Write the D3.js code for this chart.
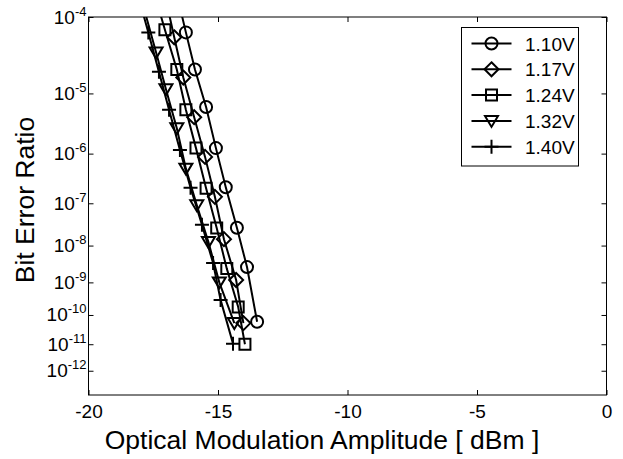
<!DOCTYPE html>
<html>
<head>
<meta charset="utf-8">
<script src="https://cdn.jsdelivr.net/npm/d3@7"></script>
<style>
  body { margin: 0; background: #fff; }
  svg { display: block; font-family: Arial, "Liberation Sans", sans-serif; }
</style>
</head>
<body>
<svg id="chart" width="623" height="459"></svg>
<script>
// values
var seriesNames = ["1.10V", "1.17V", "1.24V", "1.32V", "1.40V"];
var markerTypes = ["circle", "diamond", "square", "triangle", "plus"];

var oma_110 = [-16.58, -16.24, -15.89, -15.46, -15.08, -14.70, -14.27, -13.88, -13.49];
var ber_110 = [1.74e-4, 6.6e-5, 2.2e-5, 6.2e-6, 1.26e-6, 2.2e-7, 2.75e-8, 2.7e-9, 6.0e-11];

var oma_117 = [-17.05, -16.69, -16.34, -15.92, -15.50, -15.12, -14.77, -14.30, -14.02];
var ber_117 = [1.74e-4, 5.75e-5, 1.7e-5, 4.27e-6, 8.7e-7, 1.38e-7, 1.45e-8, 1.17e-9, 5.4e-11];

var oma_124 = [-17.44, -17.05, -16.59, -16.24, -15.85, -15.46, -15.05, -14.66, -14.22, -13.96];
var ber_124 = [1.74e-4, 7.1e-5, 2.2e-5, 5.6e-6, 1.26e-6, 2.1e-7, 2.7e-8, 2.45e-9, 1.8e-10, 1.0e-11];

var oma_132 = [-18.00, -17.39, -17.01, -16.59, -16.24, -15.82, -15.37, -14.95, -14.37];
var ber_132 = [1.74e-4, 3.7e-5, 1.15e-5, 2.8e-6, 5.2e-7, 9.1e-8, 1.23e-8, 1.0e-9, 5.4e-11];

var oma_140 = [-18.09, -17.69, -17.28, -16.89, -16.47, -16.06, -15.62, -15.19, -14.90, -14.42];
var ber_140 = [1.74e-4, 6.6e-5, 2.04e-5, 5.6e-6, 1.17e-6, 2.14e-7, 3.24e-8, 3.47e-9, 3.0e-10, 1.05e-11];

var xTicks = [-20, -15, -10, -5, 0];
var yTickExp = [4, 5, 6, 7, 8, 9, 10, 11, 12];
var xDomain = [-20, 0];
var yDomain = [1e-4, 1e-13];

var series = [
  {name: seriesNames[0], marker: markerTypes[0], x: oma_110, y: ber_110},
  {name: seriesNames[1], marker: markerTypes[1], x: oma_117, y: ber_117},
  {name: seriesNames[2], marker: markerTypes[2], x: oma_124, y: ber_124},
  {name: seriesNames[3], marker: markerTypes[3], x: oma_132, y: ber_132},
  {name: seriesNames[4], marker: markerTypes[4], x: oma_140, y: ber_140}
];

var margin = {left: 88.5, top: 17, right: 606.5, bottom: 395};
var svg = d3.select("#chart");

// BER paper: y is linear in log(-log(BER))
function berT(b) { return Math.log10(-Math.log10(b) - 0.75); }

var x = d3.scaleLinear().domain(xDomain).range([margin.left, margin.right]);
var yLin = d3.scaleLinear().domain(yDomain.map(berT)).range([margin.top, margin.bottom]);
var y = function(b) { return yLin(berT(b)); };

svg.append("defs").append("clipPath").attr("id", "plotclip")
  .append("rect")
  .attr("x", margin.left).attr("y", margin.top)
  .attr("width", margin.right - margin.left)
  .attr("height", margin.bottom - margin.top);

function markerPath(type, cx, cy) {
  var p = d3.path();
  if (type == "circle") {
    p.moveTo(cx + 6, cy);
    p.arc(cx, cy, 6, 0, 2 * Math.PI);
  } else if (type == "diamond") {
    p.moveTo(cx, cy - 7); p.lineTo(cx + 7, cy); p.lineTo(cx, cy + 7); p.lineTo(cx - 7, cy); p.closePath();
  } else if (type == "square") {
    p.rect(cx - 5.5, cy - 5.5, 11, 11);
  } else if (type == "triangle") {
    p.moveTo(cx - 6.5, cy - 5); p.lineTo(cx + 6.5, cy - 5); p.lineTo(cx, cy + 6); p.closePath();
  } else {
    p.moveTo(cx - 7, cy); p.lineTo(cx + 7, cy);
    p.moveTo(cx, cy - 7); p.lineTo(cx, cy + 7);
  }
  return p.toString();
}

// axes box
svg.append("rect")
  .attr("x", margin.left).attr("y", margin.top)
  .attr("width", margin.right - margin.left)
  .attr("height", margin.bottom - margin.top)
  .attr("fill", "none").attr("stroke", "#000").attr("stroke-width", 1);

// x ticks (bottom and top, inward)
var xAxisB = svg.append("g").attr("transform", "translate(0," + margin.bottom + ")")
  .call(d3.axisBottom(x).tickValues(xTicks).tickSize(-5).tickPadding(10).tickFormat(d3.format("d")));
var xAxisT = svg.append("g").attr("transform", "translate(0," + margin.top + ")")
  .call(d3.axisTop(x).tickValues(xTicks).tickSize(-5).tickFormat(""));
[xAxisB, xAxisT].forEach(function(a) {
  a.select(".domain").remove();
  a.selectAll("line").attr("stroke", "#000");
});
xAxisB.selectAll("text").attr("font-size", 19).attr("fill", "#000")
  .text(function(d) { return d == 0 ? "0" : "-" + Math.abs(d); });

// y ticks (left and right, inward)
var yTickVals = yTickExp.map(function(e) { return berT(Math.pow(10, -e)); });
var yAxisL = svg.append("g").attr("transform", "translate(" + margin.left + ",0)")
  .call(d3.axisLeft(yLin).tickValues(yTickVals).tickSize(-5).tickFormat(""));
var yAxisR = svg.append("g").attr("transform", "translate(" + margin.right + ",0)")
  .call(d3.axisRight(yLin).tickValues(yTickVals).tickSize(-5).tickFormat(""));
[yAxisL, yAxisR].forEach(function(a) {
  a.select(".domain").remove();
  a.selectAll("line").attr("stroke", "#000");
});

var yLabels = svg.append("g").selectAll("text").data(yTickExp).enter()
  .append("text")
  .attr("x", margin.left - 2)
  .attr("y", function(e) { return y(Math.pow(10, -e)) + 6.5; })
  .attr("text-anchor", "end")
  .attr("font-size", 19);
yLabels.append("tspan").text("10");
yLabels.append("tspan").attr("dy", -8).attr("font-size", 13).text(function(e) { return "-" + e; });

// series lines and markers
var line = d3.line().x(function(d) { return x(d[0]); }).y(function(d) { return y(d[1]); });
var plot = svg.append("g").attr("clip-path", "url(#plotclip)");

series.forEach(function(s) {
  var pts = s.x.map(function(v, i) { return [v, s.y[i]]; });
  plot.append("path")
    .attr("d", line(pts))
    .attr("fill", "none").attr("stroke", "#000").attr("stroke-width", 2);
  plot.selectAll(null).data(pts.filter(function(d) { return d[1] <= yDomain[0]; })).enter()
    .append("path")
    .attr("d", function(d) { return markerPath(s.marker, x(d[0]), y(d[1])); })
    .attr("fill", "none").attr("stroke", "#000").attr("stroke-width", 2);
});

// axis labels
svg.append("text")
  .attr("x", 322).attr("y", 449)
  .attr("text-anchor", "middle").attr("font-size", 26.5)
  .text("Optical Modulation Amplitude [ dBm ]");
svg.append("text")
  .attr("transform", "translate(34,200) rotate(-90)")
  .attr("text-anchor", "middle").attr("font-size", 26.5)
  .text("Bit Error Ratio");

// legend
var lg = svg.append("g");
lg.append("rect")
  .attr("x", 461.5).attr("y", 27.5).attr("width", 117).attr("height", 138.5)
  .attr("fill", "#fff").attr("stroke", "#000").attr("stroke-width", 1);
var item = lg.selectAll("g.item").data(series).enter().append("g")
  .attr("class", "item")
  .attr("transform", function(d, i) { return "translate(0," + (43.5 + i * 25.8) + ")"; });
item.append("line").attr("x1", 471.5).attr("x2", 511.5)
  .attr("stroke", "#000").attr("stroke-width", 2);
item.append("path")
  .attr("d", function(d) { return markerPath(d.marker, 491.5, 0); })
  .attr("fill", "none").attr("stroke", "#000").attr("stroke-width", 2);
item.append("text").attr("x", 525).attr("y", 7)
  .attr("font-size", 19)
  .text(function(d) { return d.name; });
</script>
</body>
</html>
